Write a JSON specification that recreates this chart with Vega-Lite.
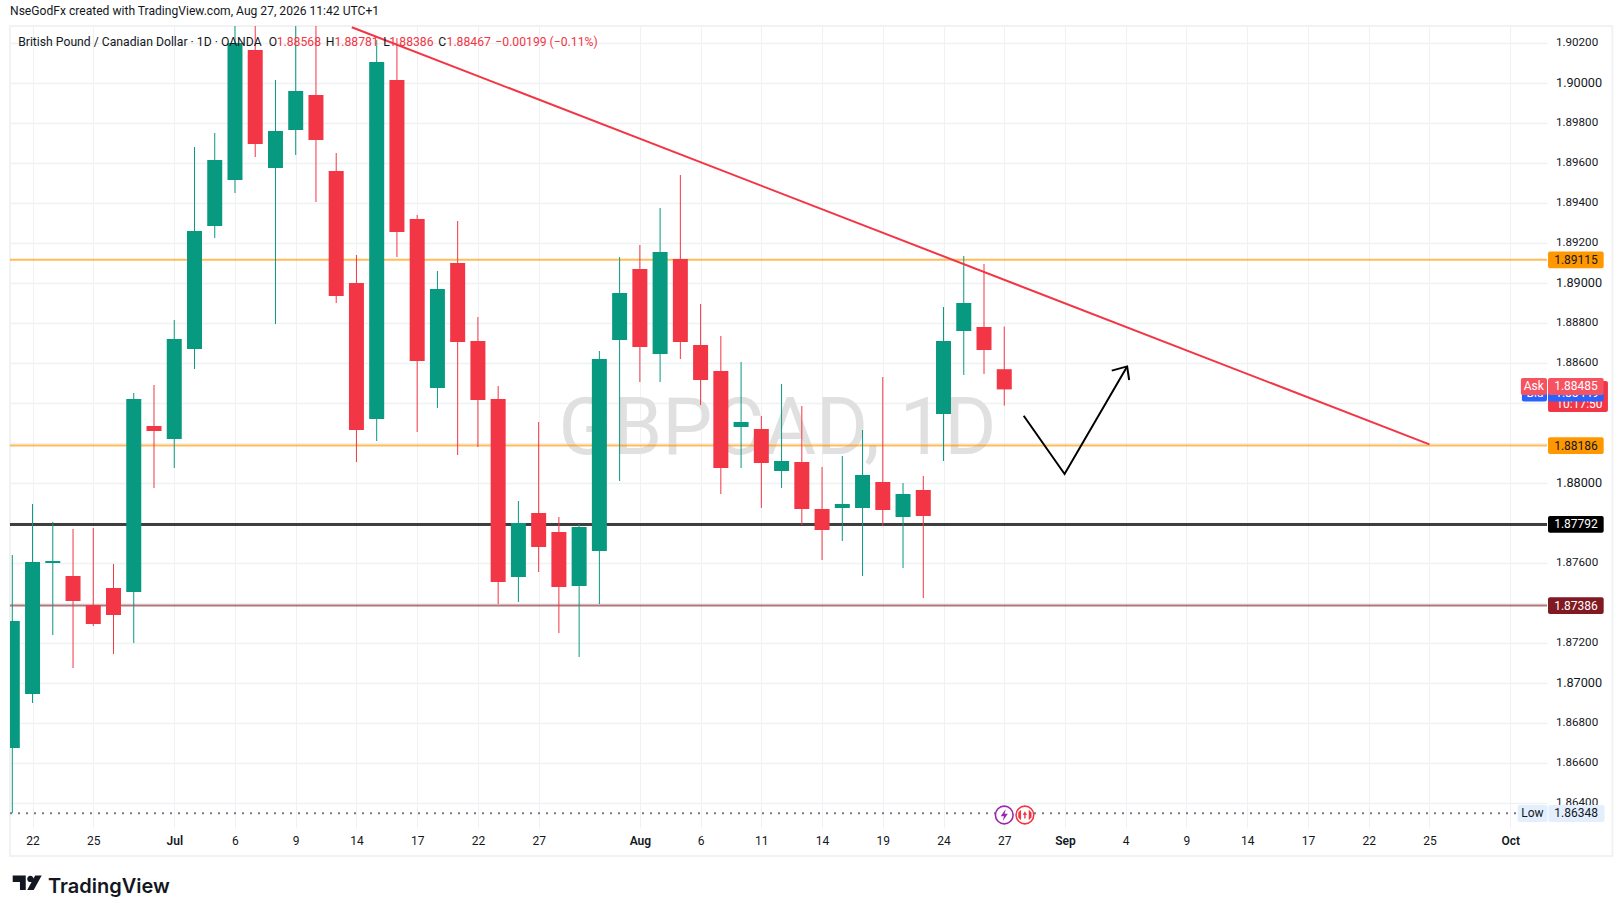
{
  "$schema": "https://vega.github.io/schema/vega-lite/v6.json",
  "width": 1537,
  "height": 802,
  "autosize": "none",
  "padding": {"left": 10, "top": 26, "right": 76, "bottom": 88},
  "background": "#ffffff",
  "title": {
    "text": "NseGodFx created with TradingView.com, Aug 27, 2026 11:42 UTC+1",
    "anchor": "start",
    "frame": "group",
    "offset": 6,
    "font": "Roboto",
    "fontSize": 12.1,
    "fontWeight": "normal",
    "color": "#131722"
  },
  "config": {
    "view": {"stroke": null},
    "text": {"font": "Roboto"}
  },
  "datasets": {
    "candles": [
      {"date": "2026-06-19", "bar": 0, "open": 1.86674, "high": 1.87639, "low": 1.86348, "close": 1.87309},
      {"date": "2026-06-22", "bar": 1, "open": 1.86944, "high": 1.87894, "low": 1.86899, "close": 1.87604},
      {"date": "2026-06-23", "bar": 2, "open": 1.87599, "high": 1.87804, "low": 1.87239, "close": 1.87609},
      {"date": "2026-06-24", "bar": 3, "open": 1.87534, "high": 1.87769, "low": 1.87074, "close": 1.87409},
      {"date": "2026-06-25", "bar": 4, "open": 1.87389, "high": 1.87774, "low": 1.87284, "close": 1.87294},
      {"date": "2026-06-26", "bar": 5, "open": 1.87474, "high": 1.87594, "low": 1.87144, "close": 1.87339},
      {"date": "2026-06-29", "bar": 6, "open": 1.87454, "high": 1.88449, "low": 1.87199, "close": 1.88419},
      {"date": "2026-06-30", "bar": 7, "open": 1.88284, "high": 1.88489, "low": 1.87974, "close": 1.88259},
      {"date": "2026-07-01", "bar": 8, "open": 1.88219, "high": 1.88814, "low": 1.88074, "close": 1.88719},
      {"date": "2026-07-02", "bar": 9, "open": 1.88669, "high": 1.89679, "low": 1.88569, "close": 1.89259},
      {"date": "2026-07-03", "bar": 10, "open": 1.89284, "high": 1.89749, "low": 1.89224, "close": 1.89614},
      {"date": "2026-07-06", "bar": 11, "open": 1.89514, "high": 1.90314, "low": 1.89449, "close": 1.90199},
      {"date": "2026-07-07", "bar": 12, "open": 1.90164, "high": 1.90314, "low": 1.89629, "close": 1.89694},
      {"date": "2026-07-08", "bar": 13, "open": 1.89574, "high": 1.90014, "low": 1.88794, "close": 1.89759},
      {"date": "2026-07-09", "bar": 14, "open": 1.89764, "high": 1.90314, "low": 1.89639, "close": 1.89959},
      {"date": "2026-07-10", "bar": 15, "open": 1.89939, "high": 1.90314, "low": 1.89404, "close": 1.89714},
      {"date": "2026-07-13", "bar": 16, "open": 1.89559, "high": 1.89649, "low": 1.88899, "close": 1.88934},
      {"date": "2026-07-14", "bar": 17, "open": 1.88999, "high": 1.89139, "low": 1.88104, "close": 1.88264},
      {"date": "2026-07-15", "bar": 18, "open": 1.88319, "high": 1.90214, "low": 1.88209, "close": 1.90104},
      {"date": "2026-07-16", "bar": 19, "open": 1.90014, "high": 1.90224, "low": 1.89129, "close": 1.89254},
      {"date": "2026-07-17", "bar": 20, "open": 1.89319, "high": 1.89339, "low": 1.88254, "close": 1.88609},
      {"date": "2026-07-20", "bar": 21, "open": 1.88474, "high": 1.89059, "low": 1.88374, "close": 1.88969},
      {"date": "2026-07-21", "bar": 22, "open": 1.89099, "high": 1.89309, "low": 1.88139, "close": 1.88704},
      {"date": "2026-07-22", "bar": 23, "open": 1.88709, "high": 1.88829, "low": 1.88179, "close": 1.88414},
      {"date": "2026-07-23", "bar": 24, "open": 1.88419, "high": 1.88484, "low": 1.87394, "close": 1.87504},
      {"date": "2026-07-24", "bar": 25, "open": 1.87529, "high": 1.87909, "low": 1.87404, "close": 1.87799},
      {"date": "2026-07-27", "bar": 26, "open": 1.87849, "high": 1.88304, "low": 1.87554, "close": 1.87679},
      {"date": "2026-07-28", "bar": 27, "open": 1.87754, "high": 1.87829, "low": 1.87249, "close": 1.87479},
      {"date": "2026-07-29", "bar": 28, "open": 1.87484, "high": 1.87794, "low": 1.87129, "close": 1.87779},
      {"date": "2026-07-30", "bar": 29, "open": 1.87659, "high": 1.88659, "low": 1.87394, "close": 1.88619},
      {"date": "2026-07-31", "bar": 30, "open": 1.88714, "high": 1.89129, "low": 1.88009, "close": 1.88949},
      {"date": "2026-08-03", "bar": 31, "open": 1.89069, "high": 1.89189, "low": 1.88504, "close": 1.88679},
      {"date": "2026-08-04", "bar": 32, "open": 1.88644, "high": 1.89374, "low": 1.88504, "close": 1.89154},
      {"date": "2026-08-05", "bar": 33, "open": 1.89119, "high": 1.89539, "low": 1.88619, "close": 1.88704},
      {"date": "2026-08-06", "bar": 34, "open": 1.88689, "high": 1.88894, "low": 1.88389, "close": 1.88514},
      {"date": "2026-08-07", "bar": 35, "open": 1.88559, "high": 1.88734, "low": 1.87944, "close": 1.88074},
      {"date": "2026-08-10", "bar": 36, "open": 1.88279, "high": 1.88604, "low": 1.88074, "close": 1.88304},
      {"date": "2026-08-11", "bar": 37, "open": 1.88269, "high": 1.88334, "low": 1.87874, "close": 1.88099},
      {"date": "2026-08-12", "bar": 38, "open": 1.88059, "high": 1.88494, "low": 1.87974, "close": 1.88109},
      {"date": "2026-08-13", "bar": 39, "open": 1.88104, "high": 1.88384, "low": 1.87789, "close": 1.87869},
      {"date": "2026-08-14", "bar": 40, "open": 1.87869, "high": 1.88079, "low": 1.87614, "close": 1.87764},
      {"date": "2026-08-17", "bar": 41, "open": 1.87874, "high": 1.88134, "low": 1.87709, "close": 1.87894},
      {"date": "2026-08-18", "bar": 42, "open": 1.87874, "high": 1.88264, "low": 1.87534, "close": 1.88039},
      {"date": "2026-08-19", "bar": 43, "open": 1.88004, "high": 1.88529, "low": 1.87784, "close": 1.87864},
      {"date": "2026-08-20", "bar": 44, "open": 1.87829, "high": 1.87999, "low": 1.87574, "close": 1.87944},
      {"date": "2026-08-21", "bar": 45, "open": 1.87964, "high": 1.88034, "low": 1.87424, "close": 1.87834},
      {"date": "2026-08-24", "bar": 46, "open": 1.88344, "high": 1.88879, "low": 1.88109, "close": 1.88709},
      {"date": "2026-08-25", "bar": 47, "open": 1.88759, "high": 1.89134, "low": 1.88539, "close": 1.88899},
      {"date": "2026-08-26", "bar": 48, "open": 1.88779, "high": 1.89094, "low": 1.88544, "close": 1.88664},
      {"date": "2026-08-27", "bar": 49, "open": 1.88568, "high": 1.88781, "low": 1.88386, "close": 1.88467}
    ],
    "levels": [
      {"kind": "orange", "price": 1.89115, "bar": -0.1136, "bar2": 75.81},
      {"kind": "orange", "price": 1.88186, "bar": -0.1136, "bar2": 75.81},
      {"kind": "black", "price": 1.87792, "bar": -0.1136, "bar2": 75.81},
      {"kind": "maroon", "price": 1.87386, "bar": -0.1136, "bar2": 75.81},
      {"kind": "low", "price": 1.86348, "bar": -0.1136, "bar2": 75.81}
    ],
    "tagBoxes": [
      {"stack": 0, "kind": "orange", "bar": 75.86, "bar2": 78.61, "price": 1.89157, "price2": 1.89073},
      {"stack": 0, "kind": "orange", "bar": 75.86, "bar2": 78.61, "price": 1.88228, "price2": 1.88144},
      {"stack": 0, "kind": "black", "bar": 75.86, "bar2": 78.61, "price": 1.87834, "price2": 1.8775},
      {"stack": 0, "kind": "maroon", "bar": 75.86, "bar2": 78.61, "price": 1.87428, "price2": 1.87344},
      {"stack": 0, "kind": "low", "bar": 74.36, "bar2": 75.84, "price": 1.86389, "price2": 1.86304},
      {"stack": 0, "kind": "low", "bar": 75.88, "bar2": 78.65, "price": 1.86389, "price2": 1.86304},
      {"stack": 0, "kind": "current", "bar": 75.86, "bar2": 78.82, "price": 1.88509, "price2": 1.88354},
      {"stack": 1, "kind": "bid", "bar": 74.57, "bar2": 75.81, "price": 1.88484, "price2": 1.88406},
      {"stack": 1, "kind": "bid", "bar": 75.86, "bar2": 78.61, "price": 1.88484, "price2": 1.88406},
      {"stack": 2, "kind": "ask", "bar": 74.52, "bar2": 75.81, "price": 1.88524, "price2": 1.88439},
      {"stack": 2, "kind": "ask", "bar": 75.86, "bar2": 78.61, "price": 1.88524, "price2": 1.88439}
    ],
    "tagTexts": [
      {"stack": 0, "tone": "dark", "label": "1.89115", "bar": 77.24, "price": 1.89115},
      {"stack": 0, "tone": "dark", "label": "1.88186", "bar": 77.24, "price": 1.88186},
      {"stack": 0, "tone": "light", "label": "1.87792", "bar": 77.24, "price": 1.87792},
      {"stack": 0, "tone": "light", "label": "1.87386", "bar": 77.24, "price": 1.87386},
      {"stack": 0, "tone": "dark", "label": "Low", "bar": 75.09, "price": 1.86347},
      {"stack": 0, "tone": "dark", "label": "1.86348", "bar": 77.25, "price": 1.86347},
      {"stack": 0, "tone": "light", "label": "10:17:50", "bar": 77.41, "price": 1.88394},
      {"stack": 1, "tone": "light", "label": "Bid", "bar": 75.22, "price": 1.88447},
      {"stack": 1, "tone": "light", "label": "1.88449", "bar": 77.29, "price": 1.88447},
      {"stack": 2, "tone": "light", "label": "Ask", "bar": 75.16, "price": 1.88482},
      {"stack": 2, "tone": "light", "label": "1.88485", "bar": 77.24, "price": 1.88482}
    ],
    "header": [
      {"text": "British Pound / Canadian Dollar · 1D · OANDA", "tone": "dark", "bar": 0.29, "price": 1.90206},
      {"text": "O", "tone": "dark", "bar": 12.67, "price": 1.90206},
      {"text": "1.88568", "tone": "red", "bar": 13.06, "price": 1.90206},
      {"text": "H", "tone": "dark", "bar": 15.48, "price": 1.90206},
      {"text": "1.88781", "tone": "red", "bar": 15.91, "price": 1.90206},
      {"text": "L", "tone": "dark", "bar": 18.33, "price": 1.90206},
      {"text": "1.88386", "tone": "red", "bar": 18.62, "price": 1.90206},
      {"text": "C", "tone": "dark", "bar": 21.04, "price": 1.90206},
      {"text": "1.88467", "tone": "red", "bar": 21.45, "price": 1.90206},
      {"text": "−0.00199 (−0.11%)", "tone": "red", "bar": 23.86, "price": 1.90206}
    ],
    "arrow": [
      {"part": "path", "seq": 0, "bar": 49.96, "price": 1.88335},
      {"part": "path", "seq": 1, "bar": 51.98, "price": 1.88044},
      {"part": "path", "seq": 2, "bar": 55.07, "price": 1.88582},
      {"part": "head", "seq": 0, "bar": 54.31, "price": 1.88561},
      {"part": "head", "seq": 1, "bar": 55.07, "price": 1.88582},
      {"part": "head", "seq": 2, "bar": 55.17, "price": 1.88514}
    ]
  },
  "encoding": {
    "x": {
      "field": "bar",
      "type": "quantitative",
      "scale": {"domain": [-0.1136, 75.81], "nice": false, "zero": false, "padding": 0},
      "axis": {
        "title": null,
        "orient": "bottom",
        "values": [1, 4, 8, 11, 14, 17, 20, 23, 26, 31, 34, 37, 40, 43, 46, 49, 52, 55, 58, 61, 64, 67, 70, 74],
        "labelExpr": "({1:'22',4:'25',8:'Jul',11:'6',14:'9',17:'14',20:'17',23:'22',26:'27',31:'Aug',34:'6',37:'11',40:'14',43:'19',46:'24',49:'27',52:'Sep',55:'4',58:'9',61:'14',64:'17',67:'22',70:'25',74:'Oct'})[datum.value]",
        "grid": true,
        "gridColor": "#f0f1f3",
        "gridWidth": 1,
        "domain": false,
        "ticks": false,
        "labelFont": "Roboto",
        "labelFontSize": 12,
        "labelColor": "#131722",
        "labelPadding": 7,
        "labelOverlap": false,
        "labelBound": false,
        "labelFlush": false,
        "labelFontWeight": {"condition": {"test": "indexof([8,31,52,74],datum.value)>=0", "value": 600}, "value": 400}
      }
    },
    "y": {
      "field": "price",
      "type": "quantitative",
      "scale": {"domain": [1.86274, 1.90284], "nice": false, "zero": false},
      "axis": {
        "title": null,
        "orient": "right",
        "values": [1.864, 1.866, 1.868, 1.87, 1.872, 1.874, 1.876, 1.878, 1.88, 1.882, 1.884, 1.886, 1.888, 1.89, 1.892, 1.894, 1.896, 1.898, 1.9, 1.902],
        "format": ".5f",
        "labelExpr": "indexof(['1.87400','1.87800','1.88200','1.88400'],datum.label)>=0?'':datum.label",
        "grid": true,
        "gridColor": "#f0f1f3",
        "gridWidth": 1.5,
        "domain": false,
        "ticks": false,
        "labelFont": "Roboto",
        "labelColor": "#131722",
        "labelPadding": 8.5,
        "labelOverlap": false,
        "labelBound": false,
        "labelFlush": false,
        "labelFontSize": {"condition": {"test": "round(datum.value*100000)%1000===0", "value": 12.7}, "value": 11.6}
      }
    }
  },
  "layer": [
    {
      "data": {"values": [{"bar": -0.1136, "bar2": 79.04, "price": 1.90284, "price2": 1.86134}]},
      "mark": {"type": "rect", "fill": null, "stroke": "#f1f2f4", "strokeWidth": 2},
      "encoding": {"x2": {"field": "bar2"}, "y2": {"field": "price2"}}
    },
    {
      "data": {"values": [{"label": "GBPCAD, 1D", "bar": 37.8, "price": 1.88144}]},
      "mark": {"type": "text", "align": "center", "baseline": "alphabetic", "font": "Roboto", "fontSize": 79.5, "color": "#e0e0e0"},
      "encoding": {"text": {"field": "label"}}
    },
    {
      "data": {"name": "levels"},
      "transform": [{"filter": "datum.kind==='orange'"}],
      "mark": {"type": "rule", "color": "#ff9800", "opacity": 0.65, "strokeWidth": 2},
      "encoding": {"x2": {"field": "bar2"}}
    },
    {
      "data": {"name": "levels"},
      "transform": [{"filter": "datum.kind==='black'"}],
      "mark": {"type": "rule", "color": "#000000", "opacity": 0.75, "strokeWidth": 3},
      "encoding": {"x2": {"field": "bar2"}}
    },
    {
      "data": {"name": "levels"},
      "transform": [{"filter": "datum.kind==='maroon'"}],
      "mark": {"type": "rule", "color": "#801922", "opacity": 0.6, "strokeWidth": 2},
      "encoding": {"x2": {"field": "bar2"}}
    },
    {
      "data": {"name": "levels"},
      "transform": [{"filter": "datum.kind==='low'"}],
      "mark": {"type": "rule", "color": "#787b86", "strokeWidth": 2, "strokeDash": [2, 6]},
      "encoding": {"x2": {"field": "bar2"}}
    },
    {
      "data": {"name": "candles"},
      "mark": {"type": "rule", "strokeWidth": 1, "clip": true},
      "encoding": {
        "y": {
          "field": "low",
          "type": "quantitative",
          "scale": {"domain": [1.86274, 1.90284], "nice": false, "zero": false},
          "axis": {
            "title": null,
            "orient": "right",
            "values": [1.864, 1.866, 1.868, 1.87, 1.872, 1.874, 1.876, 1.878, 1.88, 1.882, 1.884, 1.886, 1.888, 1.89, 1.892, 1.894, 1.896, 1.898, 1.9, 1.902],
            "format": ".5f",
            "labelExpr": "indexof(['1.87400','1.87800','1.88200','1.88400'],datum.label)>=0?'':datum.label",
            "grid": true,
            "gridColor": "#f0f1f3",
            "gridWidth": 1.5,
            "domain": false,
            "ticks": false,
            "labelFont": "Roboto",
            "labelColor": "#131722",
            "labelPadding": 8.5,
            "labelOverlap": false,
            "labelBound": false,
            "labelFlush": false,
            "labelFontSize": {"condition": {"test": "round(datum.value*100000)%1000===0", "value": 12.7}, "value": 11.6}
          }
        },
        "y2": {"field": "high"},
        "color": {"condition": {"test": "datum.close>=datum.open", "value": "#089981"}, "value": "#f23645"}
      }
    },
    {
      "data": {"name": "candles"},
      "mark": {"type": "bar", "size": 15, "clip": true},
      "encoding": {
        "y": {
          "field": "open",
          "type": "quantitative",
          "scale": {"domain": [1.86274, 1.90284], "nice": false, "zero": false},
          "axis": {
            "title": null,
            "orient": "right",
            "values": [1.864, 1.866, 1.868, 1.87, 1.872, 1.874, 1.876, 1.878, 1.88, 1.882, 1.884, 1.886, 1.888, 1.89, 1.892, 1.894, 1.896, 1.898, 1.9, 1.902],
            "format": ".5f",
            "labelExpr": "indexof(['1.87400','1.87800','1.88200','1.88400'],datum.label)>=0?'':datum.label",
            "grid": true,
            "gridColor": "#f0f1f3",
            "gridWidth": 1.5,
            "domain": false,
            "ticks": false,
            "labelFont": "Roboto",
            "labelColor": "#131722",
            "labelPadding": 8.5,
            "labelOverlap": false,
            "labelBound": false,
            "labelFlush": false,
            "labelFontSize": {"condition": {"test": "round(datum.value*100000)%1000===0", "value": 12.7}, "value": 11.6}
          }
        },
        "y2": {"field": "close"},
        "color": {"condition": {"test": "datum.close>=datum.open", "value": "#089981"}, "value": "#f23645"}
      }
    },
    {
      "data": {"values": [{"bar": 16.77, "price": 1.90278}, {"bar": 70, "price": 1.88192}]},
      "mark": {"type": "line", "color": "#f23645", "strokeWidth": 2},
      "encoding": {}
    },
    {
      "data": {"name": "arrow"},
      "mark": {"type": "line", "color": "#000000", "strokeWidth": 2},
      "encoding": {"detail": {"field": "part"}, "order": {"field": "seq"}}
    },
    {
      "data": {"values": [{"bar": 49, "price": 1.86339}]},
      "mark": {"type": "point", "shape": "circle", "size": 314, "filled": true, "fill": "#ffffff", "stroke": "#9c27b0", "strokeWidth": 1.6, "opacity": 1},
      "encoding": {}
    },
    {
      "data": {"values": [{"bar": 49, "price": 1.86339}]},
      "mark": {"type": "point", "shape": "M0.25 -1 L-0.6 0.2 H-0.05 L-0.25 1 L0.6 -0.2 H0.05 Z", "size": 144, "filled": true, "color": "#9c27b0", "opacity": 1},
      "encoding": {}
    },
    {
      "data": {"values": [{"bar": 50.02, "price": 1.86339}]},
      "mark": {"type": "point", "shape": "circle", "size": 314, "filled": true, "fill": "#ffffff", "stroke": "#f23645", "strokeWidth": 1.6, "opacity": 1},
      "encoding": {}
    },
    {
      "data": {"values": [{"bar": 50.02, "price": 1.86339}]},
      "mark": {"type": "point", "shape": "M-0.95 -0.35 L-0.55 -0.75 V0.75 L-0.95 0.35 Z M0.95 -0.35 L0.55 -0.75 V0.75 L0.95 0.35 Z M0 -0.55 L0.3 -0.05 L0.1 0 V0.5 H-0.1 V0 L-0.3 -0.05 Z", "size": 196, "filled": true, "color": "#f23645", "opacity": 1},
      "encoding": {}
    },
    {
      "data": {"name": "header"},
      "mark": {"type": "text", "align": "left", "baseline": "middle", "font": "Roboto", "fontSize": 12.2},
      "encoding": {
        "text": {"field": "text"},
        "color": {"condition": {"test": "datum.tone==='dark'", "value": "#131722"}, "value": "#f23645"}
      }
    },
    {
      "data": {"name": "tagBoxes"},
      "transform": [{"filter": "datum.stack===0"}],
      "mark": {"type": "rect", "cornerRadius": 2},
      "encoding": {
        "x2": {"field": "bar2"},
        "y2": {"field": "price2"},
        "color": {"field": "kind", "type": "nominal", "legend": null, "scale": {"domain": ["orange", "black", "maroon", "low", "current", "bid", "ask"], "range": ["#ff9800", "#000000", "#801922", "#e3effd", "#f23645", "#2962ff", "#f7525f"]}}
      }
    },
    {
      "data": {"name": "tagTexts"},
      "transform": [{"filter": "datum.stack===0"}],
      "mark": {"type": "text", "align": "center", "baseline": "middle", "font": "Roboto", "fontSize": 12},
      "encoding": {
        "text": {"field": "label"},
        "color": {"condition": {"test": "datum.tone==='dark'", "value": "#131722"}, "value": "#ffffff"}
      }
    },
    {
      "data": {"name": "tagBoxes"},
      "transform": [{"filter": "datum.stack===1"}],
      "mark": {"type": "rect", "cornerRadius": 2},
      "encoding": {
        "x2": {"field": "bar2"},
        "y2": {"field": "price2"},
        "color": {"field": "kind", "type": "nominal", "legend": null, "scale": {"domain": ["orange", "black", "maroon", "low", "current", "bid", "ask"], "range": ["#ff9800", "#000000", "#801922", "#e3effd", "#f23645", "#2962ff", "#f7525f"]}}
      }
    },
    {
      "data": {"name": "tagTexts"},
      "transform": [{"filter": "datum.stack===1"}],
      "mark": {"type": "text", "align": "center", "baseline": "middle", "font": "Roboto", "fontSize": 12, "color": "#ffffff"},
      "encoding": {"text": {"field": "label"}}
    },
    {
      "data": {"name": "tagBoxes"},
      "transform": [{"filter": "datum.stack===2"}],
      "mark": {"type": "rect", "cornerRadius": 2},
      "encoding": {
        "x2": {"field": "bar2"},
        "y2": {"field": "price2"},
        "color": {"field": "kind", "type": "nominal", "legend": null, "scale": {"domain": ["orange", "black", "maroon", "low", "current", "bid", "ask"], "range": ["#ff9800", "#000000", "#801922", "#e3effd", "#f23645", "#2962ff", "#f7525f"]}}
      }
    },
    {
      "data": {"name": "tagTexts"},
      "transform": [{"filter": "datum.stack===2"}],
      "mark": {"type": "text", "align": "center", "baseline": "middle", "font": "Roboto", "fontSize": 12, "color": "#ffffff"},
      "encoding": {"text": {"field": "label"}}
    },
    {
      "data": {"values": [{"bar": 0.736, "price": 1.86}]},
      "mark": {"type": "point", "shape": "M-1 -0.5 H-0.1 V0.5 H-0.5 V-0.05 H-1 Z M0 -0.27 A0.22 0.22 0 1 1 0.44 -0.27 A0.22 0.22 0 1 1 0 -0.27 Z M0.55 -0.5 H1 L0.45 0.5 H0 Z", "size": 841, "filled": true, "color": "#131722", "opacity": 1},
      "encoding": {}
    },
    {
      "data": {"values": [{"label": "TradingView", "bar": 1.76, "price": 1.85951}]},
      "mark": {"type": "text", "align": "left", "baseline": "alphabetic", "font": "Inter", "fontSize": 20, "fontWeight": 600, "color": "#131722"},
      "encoding": {"text": {"field": "label"}}
    }
  ]
}
